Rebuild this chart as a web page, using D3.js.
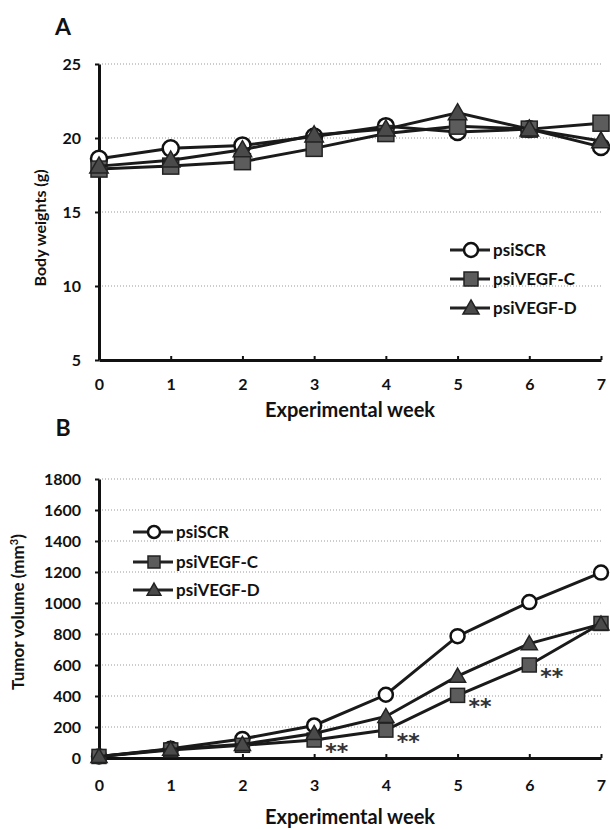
<!DOCTYPE html>
<html lang="en">
<head>
    <meta charset="UTF-8">
    <title>Body weight and tumor volume</title>
    <style>
        body { margin: 0; background: #fff; }
        text { font-family: Lato, "Open Sans", sans-serif; font-weight: bold; }
    </style>
</head>
<body>
<script src="https://cdn.jsdelivr.net/npm/d3@7/dist/d3.min.js"></script>
<script>
    // data
    const weeks = [0, 1, 2, 3, 4, 5, 6, 7];
    const seriesNames = ["psiSCR", "psiVEGF-C", "psiVEGF-D"];

    // panel A: body weight (g)
    const weightTicks = [5, 10, 15, 20, 25];
    const weightSCR = [18.6, 19.3, 19.5, 20.1, 20.8, 20.4, 20.6, 19.4];
    const weightC = [17.9, 18.1, 18.4, 19.3, 20.3, 20.8, 20.6, 21.0];
    const weightD = [18.1, 18.5, 19.2, 20.2, 20.6, 21.7, 20.6, 19.8];

    // panel B: tumor volume (mm3)
    const volumeTicks = [0, 200, 400, 600, 800, 1000, 1200, 1400, 1600, 1800];
    const volumeSCR = [10, 60, 123, 210, 408, 786, 1006, 1196];
    const volumeC = [10, 52, 82, 116, 180, 404, 600, 868];
    const volumeD = [10, 56, 88, 158, 268, 528, 738, 864];
    const starWeeks = [3, 4, 5, 6]; // "**" beside psiVEGF-C

    const shapes = ["circle", "square", "triangle"];

    const svg = d3.select("body").append("svg")
        .attr("width", 610)
        .attr("height", 829);

    function drawMarker(g, shape, x, y, size) {
        if (shape === "circle") {
            g.append("circle").attr("cx", x).attr("cy", y).attr("r", size)
                .attr("fill", "#fff").attr("stroke", "#111").attr("stroke-width", 2.5);
        } else if (shape === "square") {
            g.append("rect").attr("x", x - size).attr("y", y - size)
                .attr("width", size * 2).attr("height", size * 2)
                .attr("fill", "#5c5c5c").attr("stroke", "#222").attr("stroke-width", 1.5);
        } else {
            const s = size * 1.15;
            g.append("path")
                .attr("d", `M${x},${y - s}L${x + s},${y + s * 0.75}L${x - s},${y + s * 0.75}Z`)
                .attr("fill", "#4a4a4a").attr("stroke", "#222").attr("stroke-width", 1.5);
        }
    }

    function drawPanel(p) {
        const g = svg.append("g");
        const x = d3.scaleLinear().domain([0, 7]).range([99, 601]);
        const y = d3.scaleLinear().domain(p.domain).range([p.bottom, p.top]);

        // dotted gridlines
        g.append("g").selectAll("line")
            .data(p.ticks.slice(1))
            .join("line")
            .attr("x1", x(0)).attr("x2", x(7) + 2)
            .attr("y1", d => y(d)).attr("y2", d => y(d))
            .attr("stroke", "#999").attr("stroke-width", 1)
            .attr("stroke-dasharray", "1,2");

        // axes
        const yAxis = g.append("g")
            .attr("transform", `translate(${x(0)},0)`)
            .call(d3.axisLeft(y).tickValues(p.ticks).tickFormat(d3.format("d"))
                .tickSizeInner(4).tickSizeOuter(0).tickPadding(14));
        const xAxis = g.append("g")
            .attr("transform", `translate(0,${p.bottom})`)
            .call(d3.axisBottom(x).tickValues(weeks).tickFormat(d3.format("d"))
                .tickSizeInner(-4).tickSizeOuter(0).tickPadding(p.xPad));
        [yAxis, xAxis].forEach(a => {
            a.select(".domain").attr("stroke", "#111").attr("stroke-width", 3);
            a.selectAll(".tick line").attr("stroke", "#111").attr("stroke-width", 2);
            a.selectAll("text").attr("fill", "#111").style("font-size", "16px")
                .style("font-family", "Lato, sans-serif").style("font-weight", "bold");
        });

        // axis titles
        g.append("text")
            .attr("x", (x(0) + x(7)) / 2).attr("y", p.xTitleY)
            .attr("text-anchor", "middle").attr("font-size", 20).attr("fill", "#111")
            .text("Experimental week");
        const yt = g.append("text")
            .attr("transform", `translate(${p.yTitleX},${p.yTitleY}) rotate(-90)`)
            .attr("text-anchor", "middle").attr("font-size", p.yTitleSize).attr("fill", "#111");
        p.yTitle(yt);

        // panel letter
        g.append("text")
            .attr("x", 63).attr("y", p.letterY)
            .attr("text-anchor", "middle").attr("font-size", 23).attr("fill", "#111")
            .text(p.letter);

        // series
        const line = d3.line().x((d, i) => x(weeks[i])).y(d => y(d));
        p.series.forEach((vals, k) => {
            const sg = g.append("g");
            sg.append("path").datum(vals)
                .attr("d", line)
                .attr("fill", "none").attr("stroke", "#1a1a1a").attr("stroke-width", 3);
            vals.forEach((v, i) => drawMarker(sg, shapes[k], x(weeks[i]), y(v), p.markerSize));
        });

        // significance marks
        if (p.stars) {
            p.stars.forEach(w => {
                g.append("text")
                    .attr("x", x(w) + 11).attr("y", y(p.series[1][w]) + 19)
                    .attr("font-size", 22).attr("font-weight", "normal")
                    .style("font-family", "DejaVu Sans, sans-serif").attr("fill", "#333")
                    .text("**");
            });
        }

        // legend
        const lg = g.append("g");
        seriesNames.forEach((name, k) => {
            const ly = p.legend.y[k];
            lg.append("line")
                .attr("x1", p.legend.x).attr("x2", p.legend.x + 40)
                .attr("y1", ly).attr("y2", ly)
                .attr("stroke", "#222").attr("stroke-width", 3);
            drawMarker(lg, shapes[k], p.legend.x + 21, ly, p.markerSize - 1);
            lg.append("text")
                .attr("x", p.legend.x + 43).attr("y", ly).attr("dy", "0.35em")
                .attr("font-size", 17).attr("fill", "#111")
                .text(name);
        });
    }

    drawPanel({
        letter: "A", letterY: 35,
        domain: [5, 25], ticks: weightTicks, top: 64, bottom: 360,
        xPad: 19, xTitleY: 417,
        yTitleX: 46, yTitleY: 228, yTitleSize: 16,
        yTitle: t => t.text("Body weights (g)"),
        series: [weightSCR, weightC, weightD],
        markerSize: 8,
        legend: {x: 450, y: [250, 279, 308]}
    });

    drawPanel({
        letter: "B", letterY: 436,
        domain: [0, 1800], ticks: volumeTicks, top: 479, bottom: 758,
        xPad: 22, xTitleY: 824,
        yTitleX: 24, yTitleY: 612, yTitleSize: 17,
        yTitle: t => {
            t.append("tspan").text("Tumor volume (mm");
            t.append("tspan").attr("dy", -6).attr("font-size", 11).text("3");
            t.append("tspan").attr("dy", 6).text(")");
        },
        series: [volumeSCR, volumeC, volumeD],
        stars: starWeeks,
        markerSize: 7,
        legend: {x: 133, y: [532, 562, 590]}
    });
</script>
</body>
</html>
